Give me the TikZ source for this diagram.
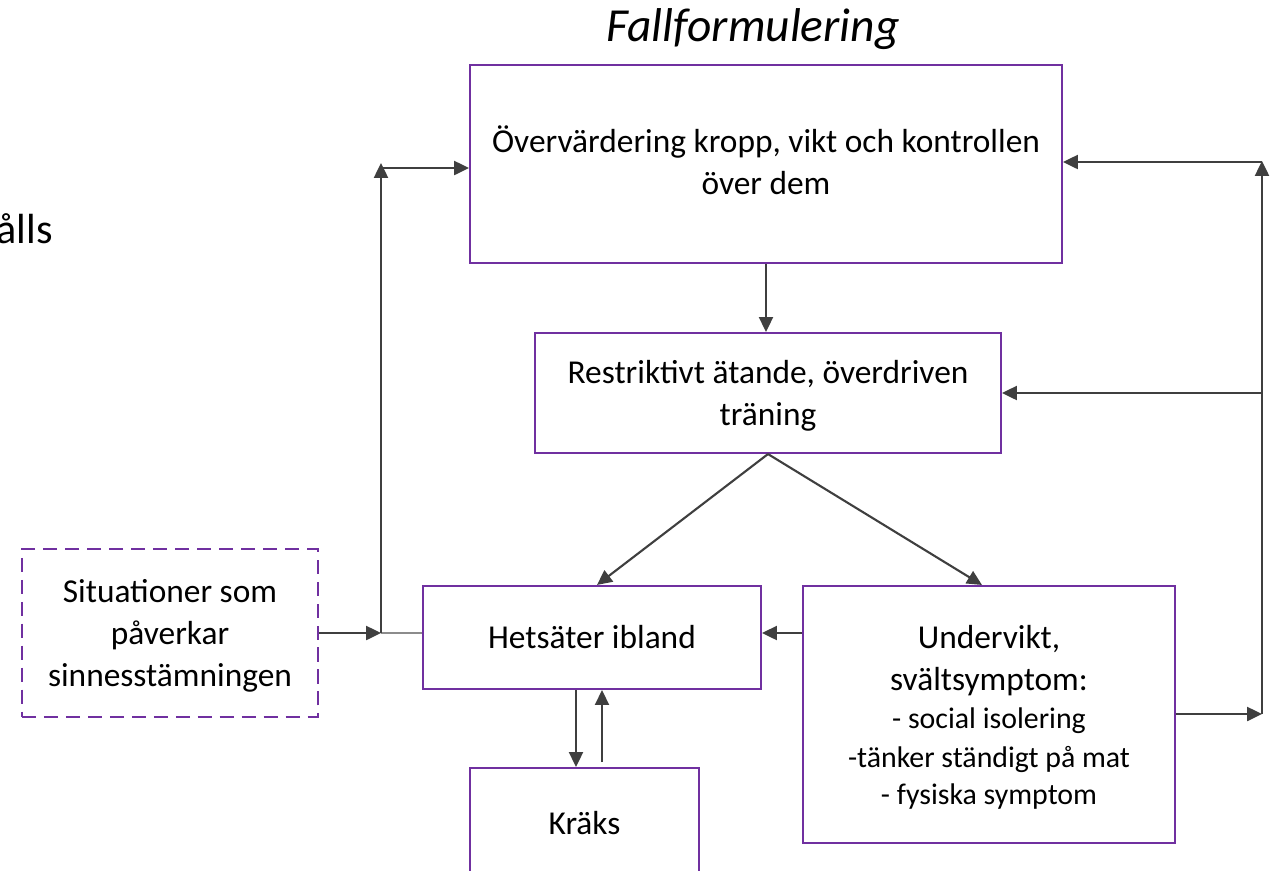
\documentclass[tikz,border=0pt]{standalone}
\usepackage{fontspec}
\setmainfont{Carlito}
\usetikzlibrary{arrows.meta}
\definecolor{boxpurple}{HTML}{7030A0}
\definecolor{arrowgray}{HTML}{3F3F3F}
\definecolor{linkgray}{HTML}{8C8C8C}
\newcommand{\listsize}{\fontsize{17}{21}\selectfont}

\begin{document}
\begin{tikzpicture}[x=0.02cm,y=-0.02cm,
  box/.style={draw=boxpurple, line width=1.2pt, rectangle, align=center,
    inner sep=0pt, font=\fontsize{19}{24}\selectfont},
  dashbox/.style={box, dash pattern=on 8pt off 4.5pt},
  arr/.style={draw=arrowgray, line width=1.2pt,
    -{Triangle[length=8.5pt,width=8pt]}},
  link/.style={draw=linkgray, line width=1.2pt}]
\useasboundingbox (0,0) rectangle (1276,870);
\clip (0,0) rectangle (1276,870);

% heading and the clipped word at the left edge
\node[font=\itshape\fontsize{27}{32}\selectfont] (title) at (753,29) {Fallformulering};
\node[anchor=base east, inner sep=0pt, font=\fontsize{24}{29}\selectfont] (word) at (53,243) {ålls};

% boxes
\node[box, minimum width=11.84cm, minimum height=3.96cm, text depth=4.5pt] (eval) at (766,164)
  {Övervärdering kropp, vikt och kontrollen\\över dem};
\node[box, minimum width=9.32cm, minimum height=2.4cm, text depth=0pt] (restr) at (768,393)
  {Restriktivt ätande, överdriven\\träning};
\node[box, minimum width=6.76cm, minimum height=2.06cm] (hets) at (592,637.5)
  {Hetsäter ibland};
\node[box, minimum width=7.44cm, minimum height=5.14cm, text depth=0pt] (under) at (989,714.5)
  {Undervikt,\\svältsymptom:\\[-2.1pt]\listsize - social isolering\\[-1.7pt]\listsize -tänker ständigt på mat\\[-3.4pt]\listsize - fysiska symptom};
\node[box, minimum width=4.58cm, minimum height=2.2cm] (kraks) at (584.5,823)
  {Kräks};
\node[dashbox, minimum width=5.92cm, minimum height=3.36cm, text depth=0pt] (sit) at (170,633)
  {Situationer som\\påverkar\\sinnesstämningen};

% junction points of the feedback lines
\coordinate (lj) at (381,633);
\coordinate (lt) at (381,163);
\coordinate (lh) at (381,168);
\coordinate (rb) at (1262,714);
\coordinate (rt) at (1262,161);
\coordinate (ra) at (1262,162);
\coordinate (rr) at (1262,393);
\coordinate (ku) at (602,762);

% main chain
\draw[arr] (eval.south) -- (eval.south |- restr.north);
\draw[arr] (restr.south) -- ([xshift=0.1cm]hets.north);
\draw[arr] (restr.south) -- ([xshift=-0.14cm]under.north);
\draw[arr] ([yshift=0.09cm]hets.east -| under.west) -- ([yshift=0.09cm]hets.east);

% binge / purge loop
\draw[arr] ([xshift=-0.32cm]hets.south) -- ([xshift=-0.32cm]hets.south |- kraks.north);
\draw[arr] (ku) -- (ku |- hets.south);

% left feedback
\draw[arr] (sit.east) -- (lj);
\draw[link] (lj) -- (lj -| hets.west);
\draw[arr] (lj) -- (lt);
\draw[arr] (lh) -- (lh -| eval.west);

% right feedback
\draw[arr] (rb -| under.east) -- (rb);
\draw[arr] (rb) -- (rt);
\draw[arr] (ra) -- (ra -| eval.east);
\draw[arr] (rr) -- (rr -| restr.east);
\end{tikzpicture}
\end{document}
